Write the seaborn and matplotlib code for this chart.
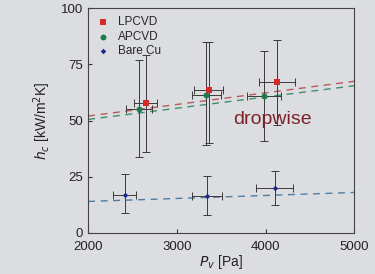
import matplotlib
matplotlib.use("Agg")
import matplotlib.pyplot as plt
import numpy as np
import pandas as pd
import seaborn as sns

# data
pv_lp = [2650, 3360, 4130]
hc_lp = [58, 63.5, 67]
lo_lp = [36, 40, 48]
hi_lp = [79, 85, 86]
xe_lp = [130, 165, 200]

pv_ap = [2575, 3330, 3980]
hc_ap = [55, 61.5, 61]
lo_ap = [34, 39, 41]
hi_ap = [77, 85, 81]
xe_ap = [145, 165, 190]

pv_cu = [2410, 3340, 4100]
hc_cu = [17, 16.5, 20]
lo_cu = [9, 8, 12.5]
hi_cu = [26, 25.5, 27.5]
xe_cu = [125, 165, 210]

fit_x = [2000, 5000]
fit_lp = [52, 67.5]
fit_ap = [50.5, 65.5]
fit_cu = [14, 18]

bg = "#dcdde1"
sns.set_style("ticks")
plt.rcParams["font.family"] = ["Liberation Sans", "DejaVu Sans"]

fig = plt.figure(figsize=(3.75, 2.74), dpi=100, facecolor=bg)
ax = fig.add_axes([0.235, 0.15, 0.71, 0.82], facecolor=bg)

series = [
    ("LPCVD", pv_lp, hc_lp, lo_lp, hi_lp, xe_lp, fit_lp, "#d42a2a", "#b85a5a", "s", 22),
    ("APCVD", pv_ap, hc_ap, lo_ap, hi_ap, xe_ap, fit_ap, "#1d7a4c", "#3f8f6c", "o", 18),
    ("Bare Cu", pv_cu, hc_cu, lo_cu, hi_cu, xe_cu, fit_cu, "#1c2a8c", "#4d7da5", "D", 8),
]

for name, px, hy, lo, hi, xe, fit, col, lcol, mk, sz in series:
    sns.lineplot(x=fit_x, y=fit, ax=ax, color=lcol, lw=1.0, linestyle=(0, (5, 4)))
    yerr = [np.array(hy) - np.array(lo), np.array(hi) - np.array(hy)]
    ax.errorbar(px, hy, yerr=yerr, xerr=xe, fmt="none", ecolor="#3a3a3a",
                elinewidth=0.7, capsize=3, capthick=0.7, zorder=3)
    df = pd.DataFrame({"pv": px, "hc": hy})
    sns.scatterplot(data=df, x="pv", y="hc", ax=ax, color=col, marker=mk, s=sz,
                    edgecolor=col, linewidth=0, label=name, zorder=4)

ax.text(4080, 50.5, "dropwise", color="#7a2228", fontsize=14, ha="center", va="center")

ax.set_xlim(2000, 5000)
ax.set_ylim(0, 100)
ax.set_xticks([2000, 3000, 4000, 5000])
ax.set_yticks([0, 25, 50, 75, 100])
ax.tick_params(direction="in", length=3, labelsize=9.5, colors="#333333", labelcolor="#222222")
ax.tick_params(axis="x", pad=6)
for s in ax.spines.values():
    s.set_color("#444444")
    s.set_linewidth(0.8)

ax.set_xlabel(r"$P_v$ [Pa]", fontsize=10, labelpad=0, color="#222222")
ax.set_ylabel(r"$h_c$ [kW/m$^2$K]", fontsize=10, labelpad=6, color="#222222")

leg = ax.legend(loc="upper left", frameon=False, fontsize=8.5, handletextpad=0.6,
                labelspacing=0.2, borderaxespad=0.3, handlelength=1.2)

fig.savefig("out.png", dpi=100, facecolor=bg)
